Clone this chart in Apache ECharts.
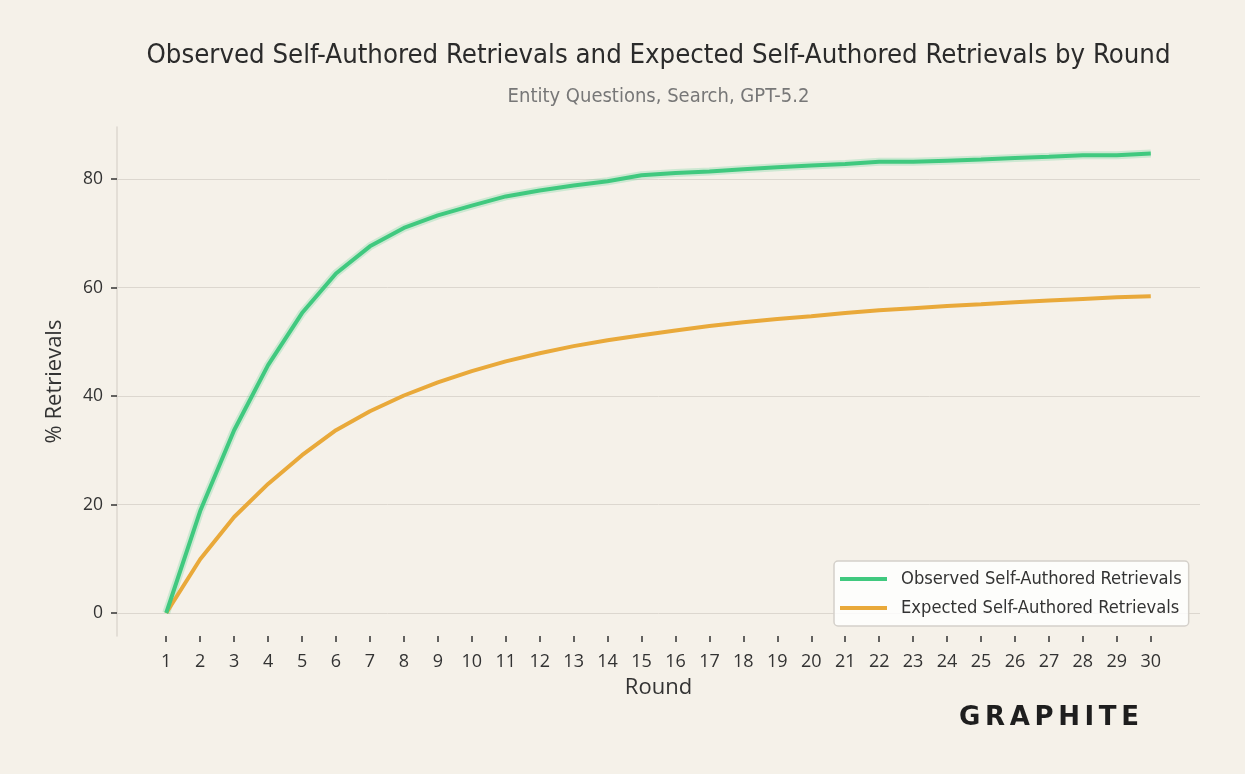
<!DOCTYPE html>
<html>
<head>
<meta charset="utf-8">
<script src="https://cdn.jsdelivr.net/npm/echarts@6/dist/echarts.min.js"></script>
<style>
html,body{margin:0;padding:0;background:#f5f1e9;}
#c{width:1245px;height:774px;}
</style>
</head>
<body>
<div id="c"></div>
<script>
const rounds = [1,2,3,4,5,6,7,8,9,10,11,12,13,14,15,16,17,18,19,20,21,22,23,24,25,26,27,28,29,30];
const observed = [0,18.8,33.7,45.7,55.3,62.6,67.6,71.0,73.3,75.1,76.8,77.9,78.8,79.6,80.7,81.1,81.4,81.8,82.2,82.5,82.8,83.2,83.2,83.4,83.6,83.9,84.1,84.4,84.4,84.7];
const expected = [0,9.9,17.7,23.8,29.1,33.7,37.2,40.1,42.5,44.6,46.4,47.9,49.2,50.3,51.2,52.1,52.9,53.6,54.2,54.7,55.3,55.8,56.2,56.6,56.9,57.3,57.6,57.9,58.2,58.4];
const yTicks = [0,20,40,60,80];
const seriesNames = ['Observed Self-Authored Retrievals','Expected Self-Authored Retrievals'];
const titleText = 'Observed Self-Authored Retrievals and Expected Self-Authored Retrievals by Round';
const subtitleText = 'Entity Questions, Search, GPT-5.2';
const logoText = 'GRAPHITE';

const chart = echarts.init(document.getElementById('c'));
const condensed = '"Liberation Sans Narrow", "DejaVu Sans Condensed", sans-serif';
const tickFont = '"Open Sans", sans-serif';
const pair = a => rounds.map((r,i)=>[r,a[i]]);

// logo letters spread between x=959 and x=1139
const logoFont = 'bold 26px "DejaVu Sans", sans-serif';
const cv = document.createElement('canvas').getContext('2d');
cv.font = logoFont;
const letters = logoText.split('');
const widths = letters.map(ch => cv.measureText(ch).width);
const totalW = widths.reduce((a,b)=>a+b,0);
const gap = (180 - totalW) / (letters.length - 1);
let lx = 959;
const logoEls = letters.map((ch,i) => {
  const el = {type:'text',x:lx,y:718,style:{text:ch,fill:'#1e1e1e',font:logoFont,textAlign:'left',textVerticalAlign:'middle'}};
  lx += widths[i] + gap;
  return el;
});

chart.setOption({
  backgroundColor:'#f5f1e9',
  animation:false,
  grid:{left:117,right:45,top:127,bottom:138,containLabel:false},
  xAxis:{
    type:'value',min:-0.45,max:31.45,
    axisLine:{show:false,onZero:false},
    splitLine:{show:false},
    axisTick:{show:true,customValues:rounds,length:6,lineStyle:{color:'#333',width:1.5}},
    axisLabel:{customValues:rounds,margin:17,color:'#333',fontFamily:tickFont,fontSize:18},
    name:'Round',nameLocation:'middle',nameGap:41,
    nameTextStyle:{color:'#333',fontFamily:tickFont,fontSize:22}
  },
  yAxis:{
    type:'value',min:-4.24,max:89.6,
    axisLine:{show:true,onZero:false,lineStyle:{color:'#dcd7cf',width:1.5}},
    axisTick:{show:true,customValues:yTicks,length:6,lineStyle:{color:'#333',width:1.5}},
    splitLine:{show:true,lineStyle:{color:'#dcd7cf',width:1}},
    axisLabel:{customValues:yTicks,margin:14,color:'#333',fontFamily:tickFont,fontSize:17.5},
    name:'% Retrievals',nameLocation:'middle',nameGap:51,
    nameTextStyle:{color:'#333',fontFamily:tickFont,fontSize:22}
  },
  legend:{
    orient:'vertical',left:834,top:561,
    data:seriesNames,
    icon:'rect',itemWidth:47,itemHeight:4,itemGap:11,
    padding:[9,7,9,6],
    backgroundColor:'rgba(255,255,255,0.82)',
    borderColor:'#d4d0ca',borderWidth:1.5,borderRadius:4,
    textStyle:{color:'#333',fontFamily:condensed,fontSize:18.2,padding:[0,0,0,9]}
  },
  graphic:[
    {type:'text',x:658.5,y:56,style:{text:titleText,fill:'#2b2b2b',font:'27.3px '+condensed,textAlign:'center',textVerticalAlign:'middle'}},
    {type:'text',x:658.5,y:97,style:{text:subtitleText,fill:'#777',font:'20px '+condensed,textAlign:'center',textVerticalAlign:'middle'}}
  ].concat(logoEls),
  series:[
    {name:'band',type:'line',data:pair(observed),showSymbol:false,silent:true,z:1,
     lineStyle:{color:'rgba(63,202,126,0.22)',width:8}},
    {name:seriesNames[0],type:'line',data:pair(observed),showSymbol:false,z:3,
     itemStyle:{color:'#40c97f'},lineStyle:{color:'#40c97f',width:4}},
    {name:seriesNames[1],type:'line',data:pair(expected),showSymbol:false,z:2,
     itemStyle:{color:'#e9a93a'},lineStyle:{color:'#e9a93a',width:4}}
  ]
});
</script>
</body>
</html>
